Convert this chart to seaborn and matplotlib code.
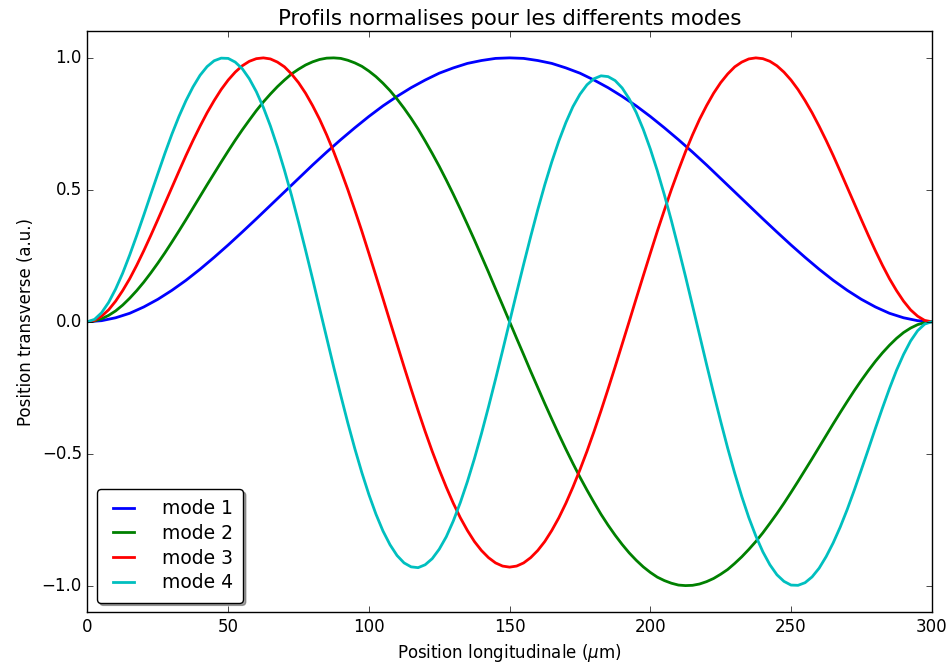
import matplotlib
matplotlib.use("Agg")
import matplotlib.pyplot as plt
import seaborn as sns
import pandas as pd

# Longitudinal sample positions along the beam (micrometres)
position_coarse = [5 * i for i in range(61)]      # 0 .. 300 step 5
position_fine = [2.5 * i for i in range(121)]     # 0 .. 300 step 2.5

# Normalised transverse profiles of the first four modes
mode_1 = [0.000, 0.004, 0.015, 0.032, 0.056, 0.085, 0.119, 0.157, 0.199, 0.244,
          0.291, 0.340, 0.390, 0.441, 0.492, 0.543, 0.594, 0.643, 0.690, 0.735,
          0.778, 0.818, 0.854, 0.887, 0.916, 0.942, 0.962, 0.979, 0.990, 0.998,
          1.000,
          0.998, 0.990, 0.979, 0.962, 0.942, 0.916, 0.887, 0.854, 0.818, 0.778,
          0.735, 0.690, 0.643, 0.594, 0.543, 0.492, 0.441, 0.390, 0.340, 0.291,
          0.244, 0.199, 0.157, 0.119, 0.085, 0.056, 0.032, 0.015, 0.004, 0.000]

mode_2 = [0.000, 0.003, 0.011, 0.024, 0.041, 0.063, 0.089, 0.118, 0.150, 0.185,
          0.222, 0.261, 0.302, 0.344, 0.387, 0.431, 0.475, 0.519, 0.562, 0.605,
          0.647, 0.688, 0.727, 0.764, 0.800, 0.833, 0.863, 0.891, 0.916, 0.939,
          0.957, 0.973, 0.985, 0.994, 0.999, 1.000, 0.998, 0.991, 0.981, 0.968,
          0.950, 0.929, 0.904, 0.876, 0.844, 0.809, 0.771, 0.730, 0.685, 0.638,
          0.589, 0.537, 0.483, 0.427, 0.369, 0.310, 0.249, 0.188, 0.125, 0.063,
          0.000,
          -0.063, -0.125, -0.188, -0.249, -0.310, -0.369, -0.427, -0.483, -0.537, -0.589,
          -0.638, -0.685, -0.730, -0.771, -0.809, -0.844, -0.876, -0.904, -0.929, -0.950,
          -0.968, -0.981, -0.991, -0.998, -1.000, -0.999, -0.994, -0.985, -0.973, -0.957,
          -0.939, -0.916, -0.891, -0.863, -0.833, -0.800, -0.764, -0.727, -0.688, -0.647,
          -0.605, -0.562, -0.519, -0.475, -0.431, -0.387, -0.344, -0.302, -0.261, -0.222,
          -0.185, -0.150, -0.118, -0.089, -0.063, -0.041, -0.024, -0.011, -0.003, 0.000]

mode_3 = [0.000, 0.005, 0.021, 0.045, 0.078, 0.118, 0.163, 0.214, 0.269, 0.327,
          0.387, 0.448, 0.509, 0.570, 0.630, 0.687, 0.741, 0.792, 0.838, 0.880,
          0.916, 0.946, 0.970, 0.987, 0.997, 1.000, 0.996, 0.984, 0.966, 0.939,
          0.906, 0.866, 0.819, 0.767, 0.708, 0.644, 0.574, 0.501, 0.423, 0.343,
          0.259, 0.174, 0.088, 0.001, -0.085, -0.171, -0.255, -0.337, -0.416, -0.491,
          -0.561, -0.627, -0.688, -0.743, -0.791, -0.833, -0.867, -0.894, -0.914, -0.926,
          -0.930,
          -0.926, -0.914, -0.894, -0.867, -0.833, -0.791, -0.743, -0.688, -0.627, -0.561,
          -0.491, -0.416, -0.337, -0.255, -0.171, -0.085, 0.001, 0.088, 0.174, 0.259,
          0.343, 0.423, 0.501, 0.574, 0.644, 0.708, 0.767, 0.819, 0.866, 0.906,
          0.939, 0.966, 0.984, 0.996, 1.000, 0.997, 0.987, 0.970, 0.946, 0.916,
          0.880, 0.838, 0.792, 0.741, 0.687, 0.630, 0.570, 0.509, 0.448, 0.387,
          0.327, 0.269, 0.214, 0.163, 0.118, 0.078, 0.045, 0.021, 0.005, 0.000]

mode_4 = [0.000, 0.009, 0.034, 0.073, 0.124, 0.184, 0.253, 0.327, 0.404, 0.483,
          0.561, 0.638, 0.711, 0.778, 0.838, 0.890, 0.934, 0.967, 0.989, 0.999,
          0.998, 0.984, 0.959, 0.921, 0.872, 0.812, 0.742, 0.662, 0.574, 0.479,
          0.377, 0.271, 0.162, 0.050, -0.061, -0.172, -0.279, -0.383, -0.481, -0.572,
          -0.655, -0.729, -0.793, -0.845, -0.886, -0.914, -0.929, -0.932, -0.921, -0.898,
          -0.862, -0.815, -0.755, -0.685, -0.606, -0.519, -0.424, -0.323, -0.218, -0.110,
          0.000,
          0.110, 0.218, 0.323, 0.424, 0.519, 0.606, 0.685, 0.755, 0.815, 0.862,
          0.898, 0.921, 0.932, 0.929, 0.914, 0.886, 0.845, 0.793, 0.729, 0.655,
          0.572, 0.481, 0.383, 0.279, 0.172, 0.061, -0.050, -0.162, -0.271, -0.377,
          -0.479, -0.574, -0.662, -0.742, -0.812, -0.872, -0.921, -0.959, -0.984, -0.998,
          -0.999, -0.989, -0.967, -0.934, -0.890, -0.838, -0.778, -0.711, -0.638, -0.561,
          -0.483, -0.404, -0.327, -0.253, -0.184, -0.124, -0.073, -0.034, -0.009, 0.000]

mode_names = ["mode 1", "mode 2", "mode 3", "mode 4"]
mode_colors = ["#0000ff", "#008000", "#ff0000", "#00bfbf"]
x_ticks = [0, 50, 100, 150, 200, 250, 300]
y_ticks = [-1.0, -0.5, 0.0, 0.5, 1.0]

series = [(position_coarse, mode_1), (position_fine, mode_2),
          (position_fine, mode_3), (position_fine, mode_4)]
df = pd.DataFrame({
    "position": [x for xs, _ in series for x in xs],
    "profile": [v for _, ys in series for v in ys],
    "mode": [name for name, (_, ys) in zip(mode_names, series) for _ in ys],
})

plt.style.use("classic")
plt.rcParams["font.family"] = ["DejaVu Sans"]
plt.rcParams["mathtext.fontset"] = "dejavusans"

fig = plt.figure(figsize=(9.51, 6.70), dpi=100, facecolor="white")
ax = fig.add_axes([0.092, 0.0866, 0.8877, 0.8664])

sns.lineplot(data=df, x="position", y="profile", hue="mode",
             palette=dict(zip(mode_names, mode_colors)), hue_order=mode_names,
             linewidth=2, sort=False, estimator=None, ax=ax)

ax.set_xlim(0, 300)
ax.set_ylim(-1.1, 1.1)
ax.set_xticks(x_ticks)
ax.set_yticks(y_ticks)
ax.tick_params(labelsize=12)
ax.set_xlabel(r"Position longitudinale ($\mu$m)", fontsize=12)
ax.set_ylabel("Position transverse (a.u.)", fontsize=12)
ax.set_title("Profils normalises pour les differents modes", fontsize=15.3)

handles, labels = ax.get_legend_handles_labels()
ax.legend(handles, labels, loc="lower left", fancybox=True, shadow=True,
          fontsize=13.5, handlelength=1.75, handletextpad=1.15,
          labelspacing=0.3, borderpad=0.55)

fig.savefig("out.png", dpi=100, facecolor="white")
